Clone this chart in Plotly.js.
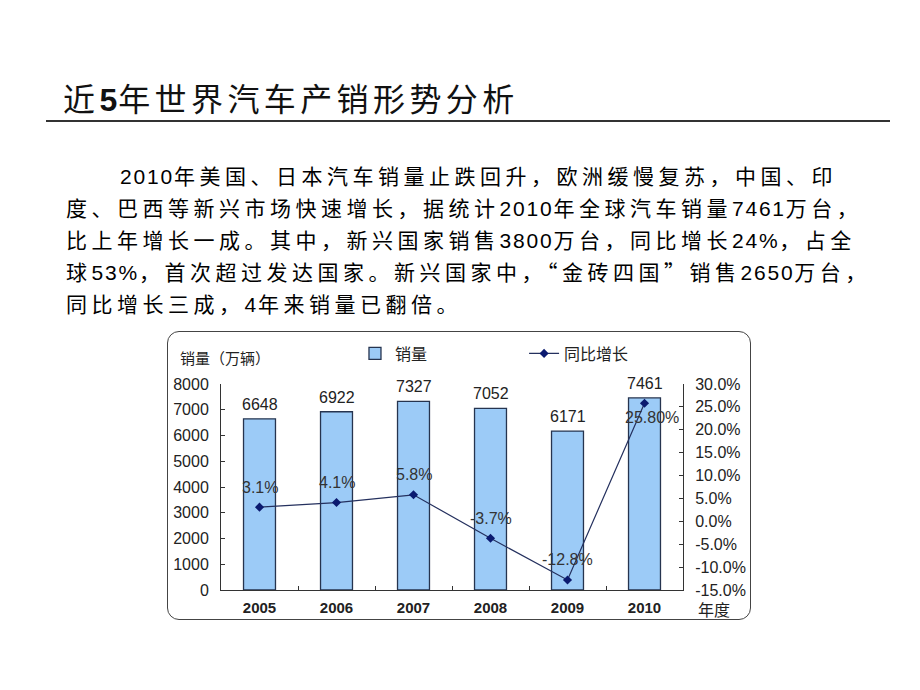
<!DOCTYPE html>
<html>
<head>
<meta charset="utf-8">
<script src="https://cdn.plot.ly/plotly-3.0.1.min.js"></script>
<style>
body { margin:0; background:#fff; width:920px; height:690px; position:relative; overflow:hidden; }
#title { position:absolute; left:63px; top:80px; font:32px/34px "Noto Sans CJK SC"; letter-spacing:4.4px; color:#111; white-space:nowrap; }
#title b { font-family:"Liberation Sans"; font-weight:bold; letter-spacing:1px; }
#rule { position:absolute; left:46px; top:120px; width:844px; height:2px; background:#333; }
#para { position:absolute; left:66px; top:160px; font:21px/31px "Noto Sans CJK SC"; letter-spacing:4.5px; color:#000; }
#para div { white-space:nowrap; }
#para .num { font-family:"Liberation Sans"; letter-spacing:1.8px; }
#box { position:absolute; left:167px; top:331px; width:582px; height:287px; border:1.5px solid #444; border-radius:12px; }
#chart { position:absolute; left:160px; top:325px; width:610px; height:305px; }
</style>
</head>
<body>
<div id="title">近<b>5</b>年世界汽车产销形势分析</div>
<div id="rule"></div>
<div id="para"></div>
<div id="box"></div>
<div id="chart"></div>
<script>
// slide text
const paraLines = [
    '2010年美国、日本汽车销量止跌回升，欧洲缓慢复苏，中国、印',
    '度、巴西等新兴市场快速增长，据统计2010年全球汽车销量7461万台，',
    '比上年增长一成。其中，新兴国家销售3800万台，同比增长24%，占全',
    '球53%，首次超过发达国家。新兴国家中，“金砖四国”销售2650万台，',
    '同比增长三成，4年来销量已翻倍。'
];

// chart data
const years = ['2005', '2006', '2007', '2008', '2009', '2010'];
const sales = [6648, 6922, 7327, 7052, 6171, 7461];
const growth = [3.1, 4.1, 5.8, -3.7, -12.8, 25.8];
const growthLabels = ['3.1%', '4.1%', '5.8%', '-3.7%', '-12.8%', '25.80%'];
const pctTicks = [-15, -10, -5, 0, 5, 10, 15, 20, 25, 30];
const pctText = pctTicks.map(v => v.toFixed(1) + '%');

let para = document.getElementById('para');
paraLines.forEach((line, i) => {
    let d = document.createElement('div');
    if (i == 0) d.style.paddingLeft = '54px';
    d.innerHTML = line.replace(/[0-9%]+/g, m => '<span class="num">' + m + '</span>');
    para.appendChild(d);
});

const fontFam = 'Liberation Sans, Arial, Noto Sans CJK SC';

let data = [
    {
        type: 'bar',
        name: '销量',
        x: years,
        y: sales,
        marker: { color: '#9ccbf7', line: { color: '#26344f', width: 1.3 } },
        legend: 'legend'
    },
    {
        type: 'scatter',
        mode: 'lines+markers',
        name: '同比增长',
        x: years,
        y: growth,
        yaxis: 'y2',
        line: { color: '#24305e', width: 1.2 },
        marker: { symbol: 'diamond', size: 7, color: '#0b1a70' },
        legend: 'legend2'
    }
];

// on a category axis a numeric x is the category index
let annotations = [];
sales.forEach((v, i) => {
    annotations.push({
        x: i, y: v, xref: 'x', yref: 'y',
        yanchor: 'bottom', yshift: 4, showarrow: false,
        text: String(v), font: { size: 16, color: '#222' }
    });
});
growth.forEach((v, i) => {
    let last = i == growth.length - 1;
    annotations.push({
        x: i, y: v, xref: 'x', yref: 'y2',
        yanchor: 'middle', yshift: last ? -14 : 20, xshift: last ? 7 : 0,
        showarrow: false,
        text: growthLabels[i], font: { size: 16, color: '#333' }
    });
});
annotations.push({
    x: -0.093, y: 1, xref: 'paper', yref: 'paper', xanchor: 'left', yanchor: 'middle',
    yshift: 27, showarrow: false, text: '销量（万辆）',
    font: { size: 15, color: '#222', family: 'Noto Sans CJK SC' }
});
annotations.push({
    x: 1.028, y: 0, xref: 'paper', yref: 'paper', xanchor: 'left', yanchor: 'middle',
    yshift: -19, showarrow: false, text: '年度',
    font: { size: 16, color: '#222', family: 'Noto Sans CJK SC' }
});

let layout = {
    width: 610,
    height: 305,
    margin: { l: 61, r: 87, t: 57, b: 40 },
    paper_bgcolor: 'rgba(0,0,0,0)',
    plot_bgcolor: 'rgba(0,0,0,0)',
    font: { family: fontFam, size: 16, color: '#222' },
    bargap: 0.585,
    xaxis: {
        type: 'category',
        range: [-0.5, years.length - 0.5],
        showline: true, linecolor: '#333', linewidth: 1,
        ticks: 'inside', tickson: 'boundaries', ticklen: 4, tickcolor: '#333',
        ticklabelstandoff: 4,
        tickfont: { size: 15, color: '#222', weight: 'bold' }
    },
    yaxis: {
        range: [0, 8000], dtick: 1000,
        showgrid: false, zeroline: false,
        showline: true, linecolor: '#333', linewidth: 1,
        ticks: 'inside', ticklen: 4, tickcolor: '#333',
        ticklabelstandoff: 8,
        tickfont: { size: 16, color: '#222' }
    },
    yaxis2: {
        overlaying: 'y', side: 'right',
        range: [-15, 30],
        tickmode: 'array', tickvals: pctTicks, ticktext: pctText,
        showgrid: false, zeroline: false,
        showline: true, linecolor: '#333', linewidth: 1,
        ticks: 'inside', ticklen: 4, tickcolor: '#333',
        ticklabelstandoff: 8,
        tickfont: { size: 16, color: '#222' }
    },
    legend: {
        orientation: 'h', x: 0.29, y: 1.148, xanchor: 'left', yanchor: 'middle',
        font: { size: 16, family: 'Noto Sans CJK SC', color: '#222' },
        bgcolor: 'rgba(0,0,0,0)'
    },
    legend2: {
        orientation: 'h', x: 0.656, y: 1.148, xanchor: 'left', yanchor: 'middle',
        font: { size: 16, family: 'Noto Sans CJK SC', color: '#222' },
        bgcolor: 'rgba(0,0,0,0)'
    },
    showlegend: true,
    annotations: annotations
};

Plotly.newPlot('chart', data, layout, { staticPlot: true, displayModeBar: false });
</script>
</body>
</html>
